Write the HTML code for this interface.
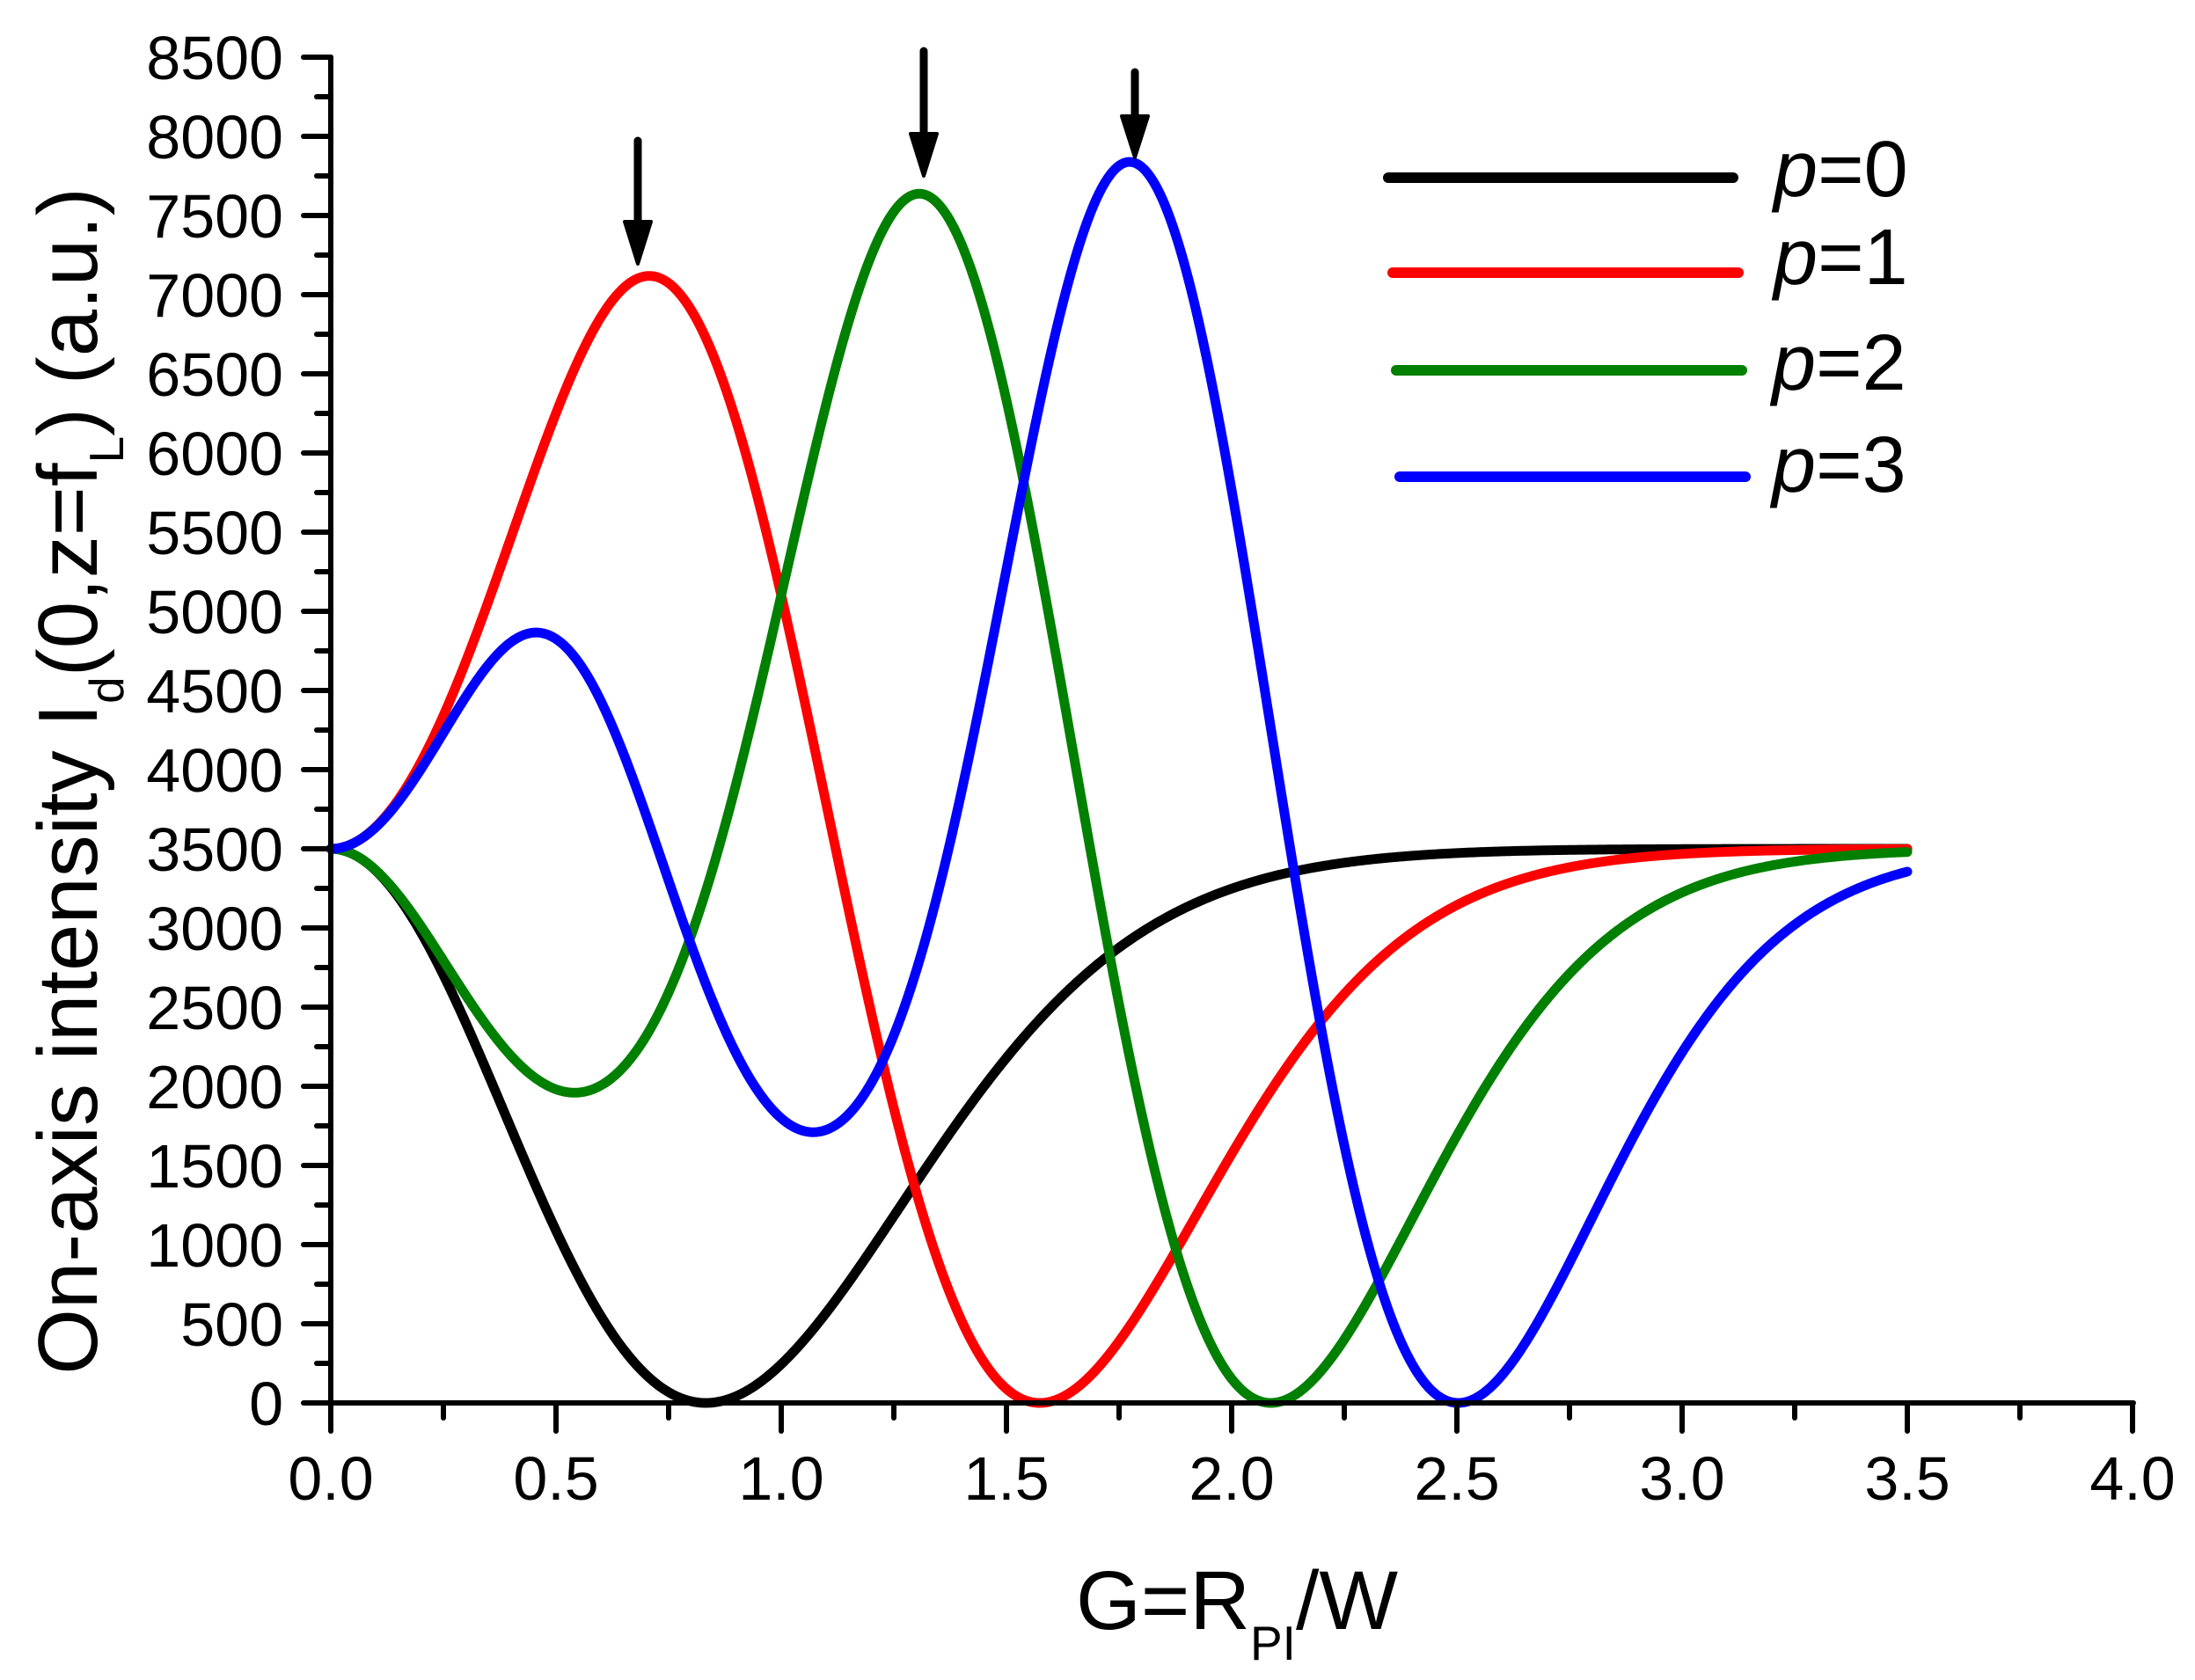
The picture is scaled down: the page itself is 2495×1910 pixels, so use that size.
<!DOCTYPE html>
<html><head><meta charset="utf-8"><style>
html,body{margin:0;padding:0;background:#fff;}
svg{display:block;}
text{font-family:"Liberation Sans",Arial,sans-serif;fill:#000;}
</style></head><body>
<svg id="s" width="2495" height="1910" viewBox="0 0 2495 1910" xmlns="http://www.w3.org/2000/svg">
<g id="curves" fill="none" stroke-width="11" stroke-linejoin="round" stroke-linecap="round"></g>
<g id="axes" stroke="#000" stroke-width="6" stroke-linecap="round" fill="none"></g>
<g id="labels" font-size="70"></g>
<!-- arrows -->
<g fill="#000" stroke="#000">
<line x1="725" y1="160" x2="725" y2="260" stroke-width="9" stroke-linecap="round"/>
<polygon points="710,252 740,252 725,300" stroke-width="4" stroke-linejoin="round"/>
<line x1="1050" y1="58" x2="1050" y2="160" stroke-width="9" stroke-linecap="round"/>
<polygon points="1035,152 1065,152 1050,200" stroke-width="4" stroke-linejoin="round"/>
<line x1="1290" y1="82" x2="1290" y2="140" stroke-width="9" stroke-linecap="round"/>
<polygon points="1275,132 1305,132 1290,179" stroke-width="4" stroke-linejoin="round"/>
</g>
<!-- legend -->
<g stroke-width="12" stroke-linecap="round">
<line x1="1578" y1="202" x2="1970" y2="202" stroke="#000"/>
<line x1="1583" y1="310" x2="1976" y2="310" stroke="#ff0000"/>
<line x1="1587" y1="421" x2="1980" y2="421" stroke="#008000"/>
<line x1="1591" y1="542" x2="1984" y2="542" stroke="#0000ff"/>
</g>
<g font-size="90">
<text x="2016" y="223"><tspan font-style="italic">p</tspan>=0</text>
<text x="2016" y="323"><tspan font-style="italic">p</tspan>=1</text>
<text x="2014" y="443"><tspan font-style="italic">p</tspan>=2</text>
<text x="2014" y="559"><tspan font-style="italic">p</tspan>=3</text>
</g>
<!-- x title -->
<text x="1223" y="1852" font-size="95">G=R<tspan font-size="55" dy="35">PI</tspan><tspan dy="-35">/W</tspan></text>
<!-- y title -->
<text transform="translate(110,888) rotate(-90)" text-anchor="middle" font-size="96">On-axis intensity I<tspan font-size="55" dy="30">d</tspan><tspan dy="-30">(0,z=f</tspan><tspan font-size="55" dy="30">L</tspan><tspan dy="-30">) (a.u.)</tspan></text>
</svg>
<script>
var NS="http://www.w3.org/2000/svg";
function X(g){return 376+g*512;}
function Y(i){return 1595-i*0.18;}
var S=[function(u){return 1;},function(u){return 1+2*u;},function(u){return 1+2*u*u;},function(u){return 1+2*u-2*u*u+4/3*u*u*u;}];
var cols=["#000","#ff0000","#008000","#0000ff"];
var cg=document.getElementById("curves");
for(var p=0;p<4;p++){
 var d="";
 for(var k=0;k<=700;k++){var g=3.5*k/700,u=g*g;var f=1-2*Math.exp(-u)*S[p](u);var I=3500*f*f;
  d+=(k?"L":"M")+X(g).toFixed(2)+","+Y(I).toFixed(2);}
 var pa=document.createElementNS(NS,"path");pa.setAttribute("d",d);pa.setAttribute("stroke",cols[p]);cg.appendChild(pa);
}
var ax=document.getElementById("axes"),lb=document.getElementById("labels");
function ln(a,b,c,e){var l=document.createElementNS(NS,"line");l.setAttribute("x1",a);l.setAttribute("y1",b);l.setAttribute("x2",c);l.setAttribute("y2",e);ax.appendChild(l);}
function tx(x,y,t,anc){var e=document.createElementNS(NS,"text");e.setAttribute("x",x);e.setAttribute("y",y);e.setAttribute("text-anchor",anc);e.textContent=t;lb.appendChild(e);}
ln(376,Y(8500),376,1595);ln(376,1595,2425,1595);
for(var v=0;v<=8500;v+=250){var maj=v%500==0;ln(maj?345:360,Y(v),376,Y(v));if(maj)tx(322,Y(v)+25,String(v),"end");}
for(var i=0;i<=16;i++){var g=i*0.25,maj=i%2==0;ln(X(g),1595,X(g),maj?1627:1612);if(maj)tx(X(g),1705,g.toFixed(1),"middle");}
</script>
</body></html>
